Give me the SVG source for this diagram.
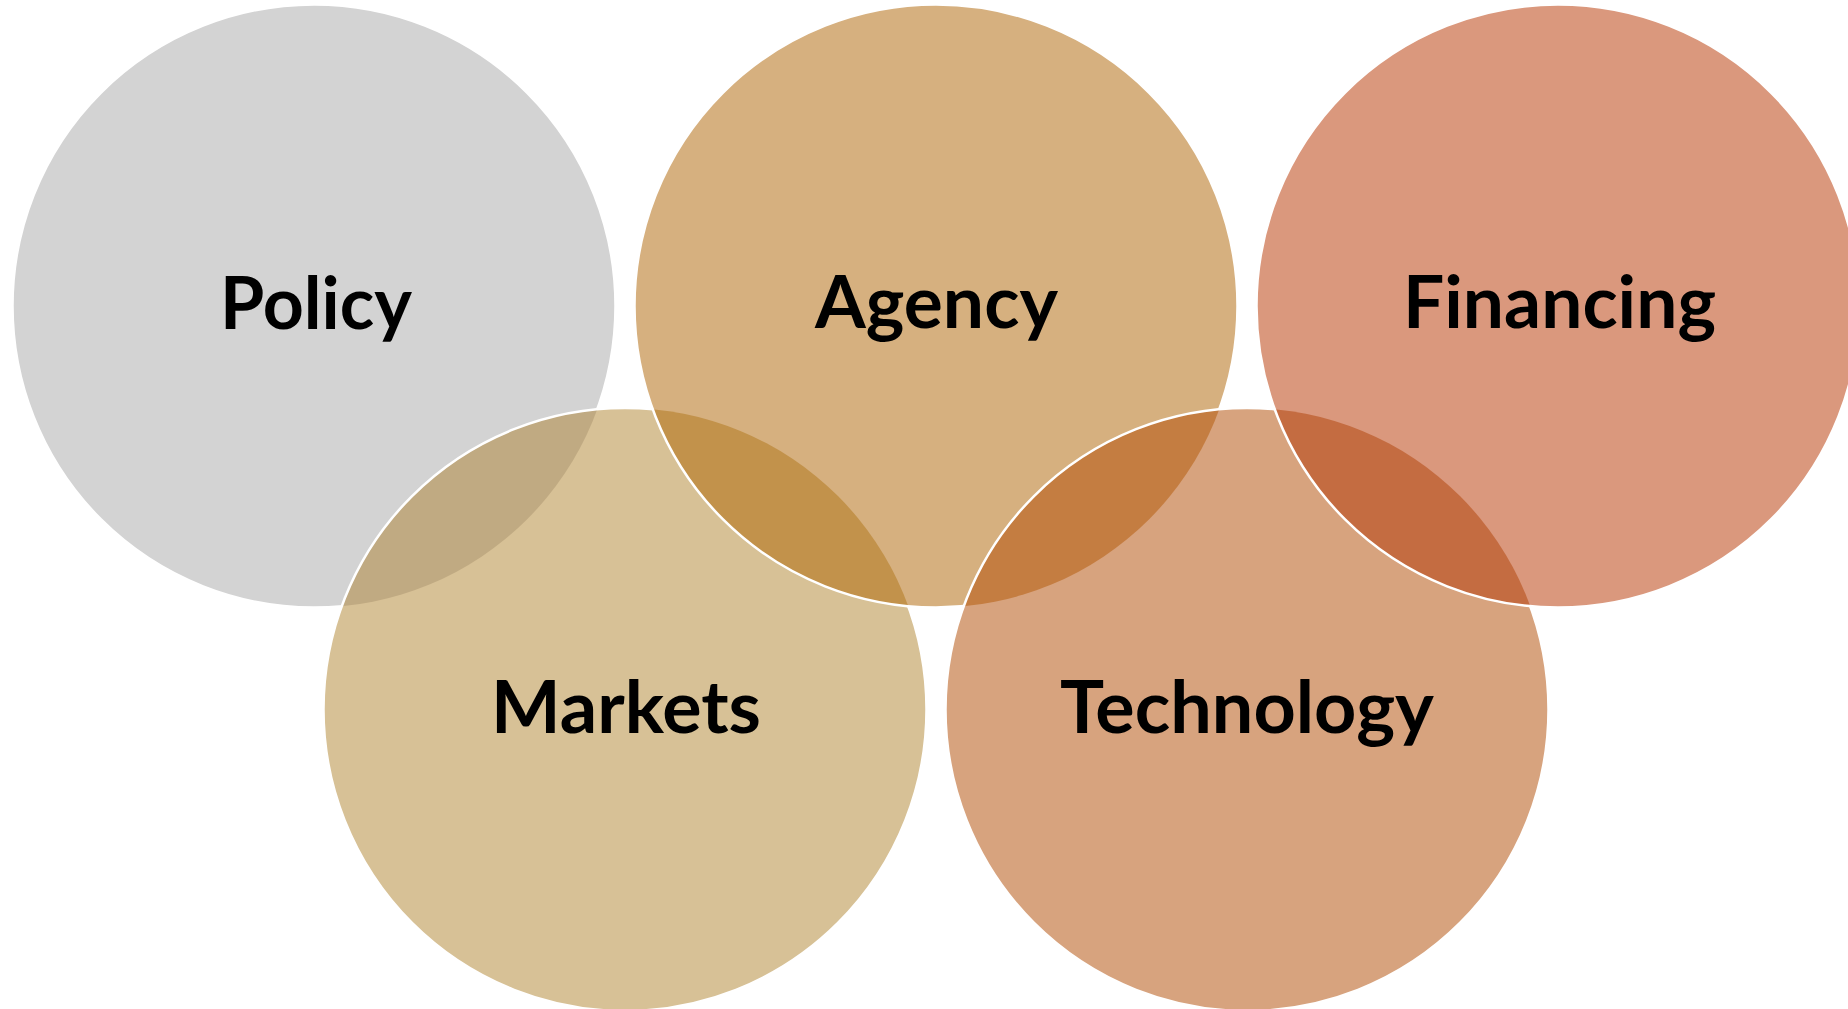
<svg xmlns="http://www.w3.org/2000/svg" width="1848" height="1009" viewBox="0 0 1848 1009">
  <style>
    .ring { stroke: #ffffff; stroke-width: 2.5; }
    .label { font-family: Lato, "Open Sans", "Liberation Sans", sans-serif; font-weight: 700; font-size: 73px; fill: #000000; }
  </style>
  <defs>
    <circle id="c-policy" cx="314" cy="306" r="301.5"/>
    <circle id="c-agency" cx="936" cy="306" r="301.5"/>
    <circle id="c-financing" cx="1558" cy="306" r="301.5"/>
    <circle id="c-markets" cx="625" cy="709.5" r="301.5"/>
    <circle id="c-technology" cx="1247" cy="709.5" r="301.5"/>
    <clipPath id="clip-policy"><use href="#c-policy"/></clipPath>
    <clipPath id="clip-markets"><use href="#c-markets"/></clipPath>
    <clipPath id="clip-agency"><use href="#c-agency"/></clipPath>
    <clipPath id="clip-technology"><use href="#c-technology"/></clipPath>
  </defs>
  <rect width="1848" height="1009" fill="#ffffff"/>

  <!-- circles are layered in zig-zag order; each overlap lens is shaded before the ring outline -->
  <g id="policy">
    <use href="#c-policy" class="ring" fill="#D3D3D3"/>
    <text class="label" x="220" y="329" textLength="192" lengthAdjust="spacingAndGlyphs">Policy</text>
  </g>
  <g id="markets">
    <use href="#c-markets" fill="#D7C196"/>
    <use href="#c-markets" fill="#C0AA82" clip-path="url(#clip-policy)"/>
    <use href="#c-markets" class="ring" fill="none"/>
    <text class="label" x="491" y="733" textLength="270" lengthAdjust="spacingAndGlyphs">Markets</text>
  </g>
  <g id="agency">
    <use href="#c-agency" fill="#D6B07F"/>
    <use href="#c-agency" fill="#C2924B" clip-path="url(#clip-markets)"/>
    <use href="#c-agency" class="ring" fill="none"/>
    <text class="label" x="815" y="328" textLength="243" lengthAdjust="spacingAndGlyphs">Agency</text>
  </g>
  <g id="technology">
    <use href="#c-technology" fill="#D7A37E"/>
    <use href="#c-technology" fill="#C47D41" clip-path="url(#clip-agency)"/>
    <use href="#c-technology" class="ring" fill="none"/>
    <text class="label" x="1060" y="733" textLength="374" lengthAdjust="spacingAndGlyphs">Technology</text>
  </g>
  <g id="financing">
    <use href="#c-financing" fill="#DA987D"/>
    <use href="#c-financing" fill="#C46C41" clip-path="url(#clip-technology)"/>
    <use href="#c-financing" class="ring" fill="none"/>
    <text class="label" x="1403" y="328" textLength="313" lengthAdjust="spacingAndGlyphs">Financing</text>
  </g>
  <g id="connectors"/>
</svg>
